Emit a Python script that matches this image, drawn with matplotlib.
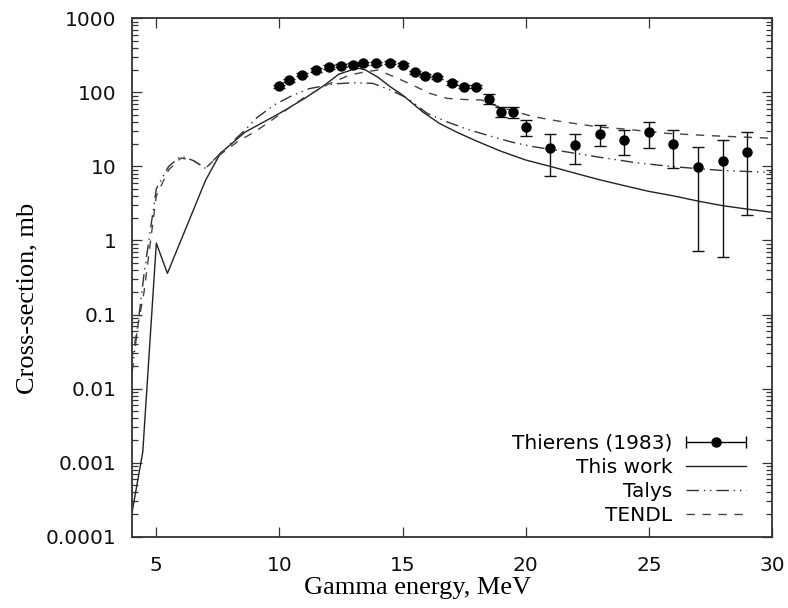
import matplotlib
matplotlib.use("Agg")
import matplotlib.pyplot as plt
import numpy as np
from matplotlib.ticker import FixedLocator, FixedFormatter, LogLocator, NullLocator, NullFormatter
from matplotlib.legend_handler import HandlerErrorbar
from matplotlib.container import ErrorbarContainer

# Thierens (1983) measured points, with error bar ends
thierens_e = [10, 10.4, 10.9, 11.5, 12, 12.5, 13, 13.4, 13.9, 14.5, 15, 15.5, 15.9, 16.4,
              17, 17.5, 18, 18.5, 19, 19.5, 20, 21, 22, 23, 24, 25, 26, 27, 28, 29]
thierens_sig = [120, 146, 173, 200, 220, 228, 236, 246, 247, 250, 236, 188, 168, 159,
                134, 119, 119, 81, 54, 54, 34, 17.9, 19.5, 27.7, 22.8, 28.9, 20.1, 9.7, 12, 15.8]
thierens_lo = [114, 139, 164, 190, 209, 217, 224, 234, 235, 238, 224, 179, 160, 151,
               127, 113, 113, 70, 46, 44.5, 26, 7.4, 10.7, 18.7, 14.1, 17.9, 9.4, 0.71, 0.6, 2.19]
thierens_hi = [126, 153, 182, 210, 231, 240, 248, 258, 259, 263, 248, 197, 176, 167,
               141, 125, 125, 94, 63, 64, 43, 27.7, 27.7, 36.6, 31, 39.8, 31.3, 18.5, 22.8, 28.9]

# This work
work_e = [4, 4.45, 5, 5.45, 7, 7.6, 8.6, 10, 11, 11.8, 12.4, 13, 13.25, 13.5, 14, 14.5,
          15, 15.8, 16.5, 17.2, 18, 19, 20, 21, 22, 23, 24, 25, 26, 27, 28, 29, 30]
work_sig = [0.0002, 0.0014, 0.92, 0.36, 6.5, 15, 29, 52, 82, 123, 175, 205, 211, 200, 160, 119,
            92, 55, 38, 29, 22, 16, 12.2, 10, 8.1, 6.6, 5.5, 4.6, 4.0, 3.4, 2.95, 2.65, 2.4]

# Talys
talys_e = [4, 4.5, 5, 5.5, 6, 6.5, 7, 7.6, 8.6, 9.1, 9.8, 10.5, 11.2, 12.2, 13, 13.8, 14.5,
           15.2, 16, 16.8, 17.6, 18.5, 19.5, 20.3, 21.5, 23, 24.5, 26, 28, 30]
talys_sig = [0.015, 0.35, 5.0, 10, 13.8, 12, 9.4, 15, 31, 46, 68, 90, 112, 130, 135, 132, 108,
             83, 52, 40, 32, 26, 21, 18.5, 16, 13.3, 11.2, 9.9, 8.8, 8.3]

# TENDL
tendl_e = [4, 4.5, 5, 5.5, 6, 6.5, 7, 7.6, 8.3, 9, 9.5, 10, 11, 12, 12.85, 13.5, 14, 14.8,
           15.55, 16.1, 16.8, 17.5, 18.2, 18.9, 19.5, 20.3, 21.5, 23, 24, 25.7, 27.5, 30]
tendl_sig = [0.025, 0.2, 4, 9, 13, 12, 9.5, 14.5, 21.6, 29.4, 38, 50, 85, 130, 171, 190, 200, 155,
             119, 97, 83, 80, 79, 64, 56, 47, 40, 34, 32, 28, 26, 24]

xticks = [5, 10, 15, 20, 25, 30]
yticks = [0.0001, 0.001, 0.01, 0.1, 1, 10, 100, 1000]
ytick_labels = ["0.0001", "0.001", "0.01", "0.1", "1", "10", "100", "1000"]

W, H = 788, 608
fig = plt.figure(figsize=(W / 100, H / 100), dpi=100)
ax = fig.add_axes([131.7 / W, 1 - 536.7 / H, 640.3 / W, 518.4 / H])

lo = np.array(thierens_sig) - np.array(thierens_lo)
hi = np.array(thierens_hi) - np.array(thierens_sig)
ax.errorbar(thierens_e, thierens_sig, yerr=[lo, hi], fmt="o", color="black", ms=6.5,
            ecolor="#111111", elinewidth=1.0, capsize=4.6, capthick=1.0, zorder=5)

l_work, = ax.plot(work_e, work_sig, color="#222222", lw=1.0, ls="-")
l_talys, = ax.plot(talys_e, talys_sig, color="#333333", lw=1.0,
                   ls=(0, (9, 3.5, 1, 3.5, 1, 3.5)))
l_tendl, = ax.plot(tendl_e, tendl_sig, color="#444444", lw=1.0, ls=(0, (6, 5.5)))

# proxy with horizontal bar for the legend (gnuplot style)
proxy = ax.errorbar([np.nan], [np.nan], xerr=[1.0], fmt="o", color="black", ms=6.5,
                    elinewidth=1.0, capsize=4.6, capthick=1.0)

ax.set_yscale("log")
ax.set_xlim(4, 30)
ax.set_ylim(0.0001, 1000)

ax.xaxis.set_major_locator(FixedLocator(xticks))
ax.xaxis.set_minor_locator(NullLocator())
ax.yaxis.set_major_locator(FixedLocator(yticks))
ax.yaxis.set_major_formatter(FixedFormatter(ytick_labels))
ax.yaxis.set_minor_locator(LogLocator(base=10, subs=np.arange(2, 10), numticks=20))
ax.yaxis.set_minor_formatter(NullFormatter())

ax.tick_params(which="both", direction="in", top=True, right=True, color="#333333",
               width=0.9, labelsize=14.5, labelcolor="#111111")
ax.tick_params(which="major", length=7)
ax.tick_params(which="minor", length=4)
ax.tick_params(axis="x", pad=14)
ax.tick_params(axis="y", pad=10.8)
for sp in ax.spines.values():
    sp.set_color("#333333")
    sp.set_linewidth(1.3)

serif = ["Liberation Serif", "DejaVu Serif"]
fig.text(418 / W, 1 - 594 / H, "Gamma energy, MeV", family=serif, fontsize=19,
         ha="center", va="baseline")
fig.text(33 / W, 1 - 298 / H, "Cross-section, mb", family=serif, fontsize=19,
         rotation=90, rotation_mode="anchor", ha="center", va="baseline")

ax.legend([proxy, l_work, l_talys, l_tendl],
          ["Thierens (1983)", "This work", "Talys", "TENDL"],
          loc="lower right", bbox_to_anchor=(746 / W, 1 - 525 / H),
          bbox_transform=fig.transFigure, frameon=False, markerfirst=False,
          handlelength=3.0, handletextpad=0.65, labelspacing=0.25, borderpad=0,
          borderaxespad=0, fontsize=14.5,
          handler_map={ErrorbarContainer: HandlerErrorbar(xerr_size=1.5)})

fig.savefig("out.png", dpi=100)
